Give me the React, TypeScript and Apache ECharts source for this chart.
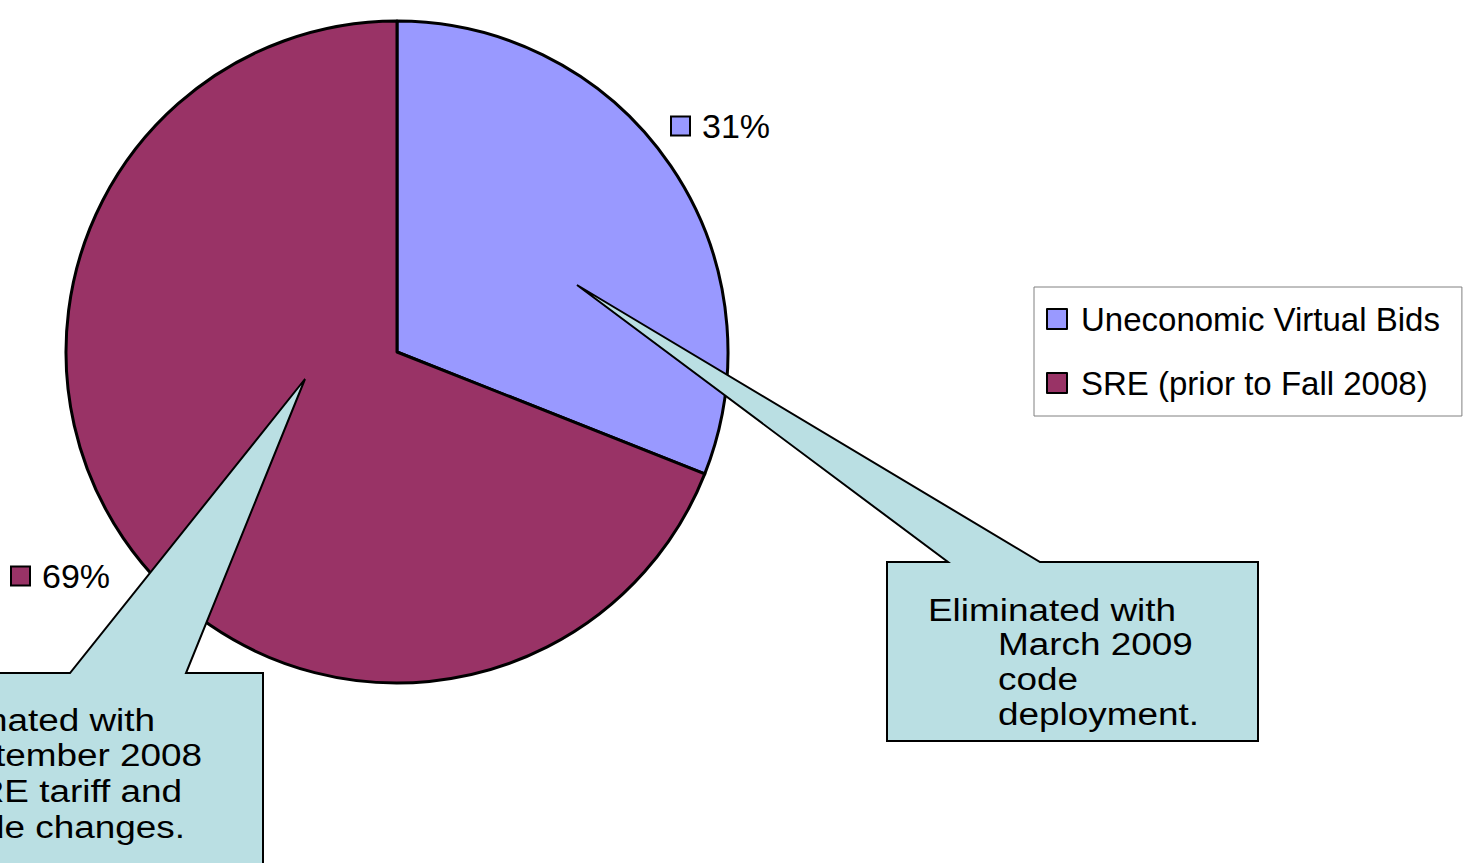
import React, { useEffect, useRef } from 'react';
import * as echarts from 'echarts';

const categories = ['Uneconomic Virtual Bids', 'SRE (prior to Fall 2008)'];
const shares = [31, 69];
const sliceColors = ['#9999FF', '#993366'];
const calloutRightLines = ['Eliminated with', 'March 2009', 'code', 'deployment.'];
const calloutLeftLines = ['Eliminated with', 'September 2008', 'SRE tariff and', 'code changes.'];

const FONT = '"Liberation Sans", Arial, Helvetica, sans-serif';
const CALLOUT_FILL = '#BADFE3';

export default function App() {
  const ref = useRef<HTMLDivElement>(null);

  useEffect(() => {
    document.body.style.margin = '0';
    if (!ref.current) return;
    const chart = echarts.init(ref.current, undefined, { renderer: 'svg' });

    const textEl = (text: string, x: number, y: number, align: string) => ({
      type: 'text',
      x,
      y,
      scaleX: 1.19,
      z: 101,
      style: {
        text,
        fontSize: 31,
        fontFamily: FONT,
        fill: '#000',
        textAlign: align,
        textVerticalAlign: 'middle',
      },
    });

    const rightY = [610, 644, 679, 714];
    const leftY = [720, 755, 791, 827];
    const leftEnds = [155, 202, 182, 185];

    const graphic: any[] = [
      {
        type: 'polygon',
        z: 100,
        shape: {
          points: [
            [577, 285], [948, 562], [887, 562], [887, 741], [1258, 741], [1258, 562], [1040, 562],
          ],
        },
        style: { fill: CALLOUT_FILL, stroke: '#000', lineWidth: 2 },
      },
      {
        type: 'polygon',
        z: 100,
        shape: {
          points: [
            [305, 379], [186, 673], [263, 673], [263, 900], [-300, 900], [-300, 673], [70, 673],
          ],
        },
        style: { fill: CALLOUT_FILL, stroke: '#000', lineWidth: 2 },
      },
      ...calloutRightLines.map((t, i) => textEl(t, i === 0 ? 928 : 998, rightY[i], 'left')),
      ...calloutLeftLines.map((t, i) => textEl(t, leftEnds[i], leftY[i], 'right')),
    ];

    const labelPos = [
      { x: 672, y: 126 },
      { x: 12, y: 576 },
    ];

    chart.setOption({
      animation: false,
      backgroundColor: '#fff',
      legend: {
        orient: 'vertical',
        left: 1034,
        top: 287,
        padding: [14, 22, 15, 12],
        itemGap: 28,
        itemWidth: 20,
        itemHeight: 20,
        icon: 'rect',
        borderColor: '#808080',
        borderWidth: 1,
        data: categories,
        textStyle: {
          fontSize: 33,
          lineHeight: 36,
          fontFamily: FONT,
          color: '#000',
          padding: [0, 0, 0, 9],
        },
      },
      graphic,
      series: [
        {
          type: 'pie',
          center: [397, 352],
          radius: 331,
          startAngle: 90,
          clockwise: true,
          itemStyle: { borderColor: '#000', borderWidth: 3 },
          labelLine: { show: false },
          label: {
            show: true,
            position: 'outside',
            overflow: 'none',
            alignTo: 'none',
            formatter: (p: any) => `{m${p.dataIndex}|}{v|${p.value}%}`,
            rich: {
              m0: { width: 17, height: 17, backgroundColor: sliceColors[0], borderColor: '#000', borderWidth: 2 },
              m1: { width: 17, height: 17, backgroundColor: sliceColors[1], borderColor: '#000', borderWidth: 2 },
              v: { fontSize: 34, fontFamily: FONT, color: '#000', padding: [0, 0, 0, 13] },
            },
          },
          labelLayout: (params: any) => ({
            x: labelPos[params.dataIndex].x,
            y: labelPos[params.dataIndex].y,
            align: 'left',
            verticalAlign: 'middle',
          }),
          emphasis: { disabled: true },
          data: categories.map((name, i) => ({
            name,
            value: shares[i],
            itemStyle: { color: sliceColors[i] },
          })),
        },
      ],
    });

    return () => chart.dispose();
  }, []);

  return <div ref={ref} style={{ width: 1470, height: 863 }} />;
}
